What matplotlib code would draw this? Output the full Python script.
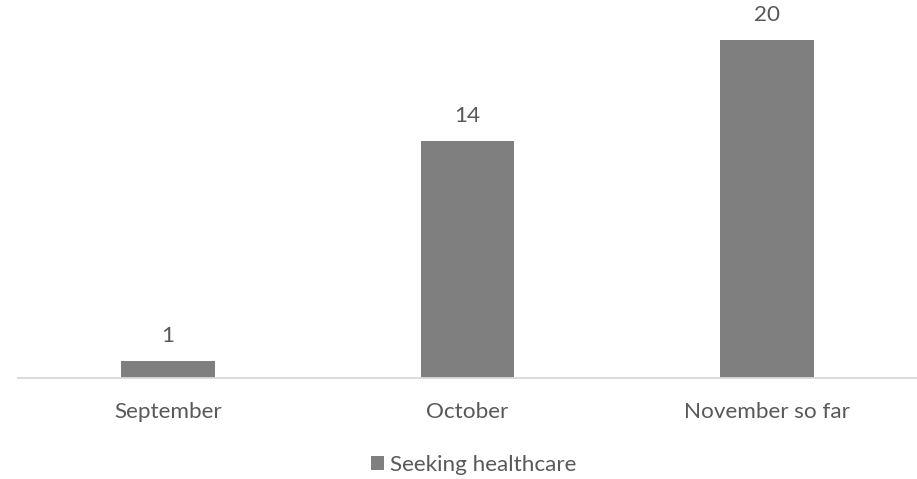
import matplotlib
matplotlib.use('Agg')
import matplotlib.pyplot as plt
from matplotlib.patches import Patch

categories = ['September', 'October', 'November so far']
seeking_healthcare = [1, 14, 20]
series_name = 'Seeking healthcare'

bar_color = '#7f7f7f'
text_color = '#595959'

plt.rcParams['font.family'] = ['Lato', 'DejaVu Sans']

W, H = 917, 479
fig = plt.figure(figsize=(W / 100, H / 100), dpi=100)
ax = fig.add_axes([18 / W, (H - 378) / H, 899 / W, 378 / H])

x = range(len(categories))
bars = ax.bar(x, seeking_healthcare, width=0.313, color=bar_color)

ax.set_xlim(-0.5, len(categories) - 0.5)
ax.set_ylim(0, 378 / 16.9)

# value labels above bars
for rect, v in zip(bars, seeking_healthcare):
    ax.annotate(str(v), (rect.get_x() + rect.get_width() / 2, v),
                xytext=(0, 19), textcoords='offset pixels',
                ha='center', va='baseline', fontsize=16.2, color=text_color)

ax.set_xticks(list(x))
ax.set_xticklabels(categories, fontsize=16.2, color=text_color)
ax.tick_params(axis='x', length=0, pad=17)
ax.set_yticks([])
for side in ['top', 'right', 'left']:
    ax.spines[side].set_visible(False)
ax.spines['bottom'].set_color('#d9d9d9')
ax.spines['bottom'].set_linewidth(1.3)

handles = [Patch(facecolor=bar_color, label=series_name)]
fig.legend(handles=handles, loc='center', bbox_to_anchor=(474 / W, 1 - 465 / H),
           frameon=False, fontsize=16.2, handlelength=0.55, handleheight=0.55,
           handletextpad=0.3, labelcolor=text_color)

fig.savefig('out.png', dpi=100)
